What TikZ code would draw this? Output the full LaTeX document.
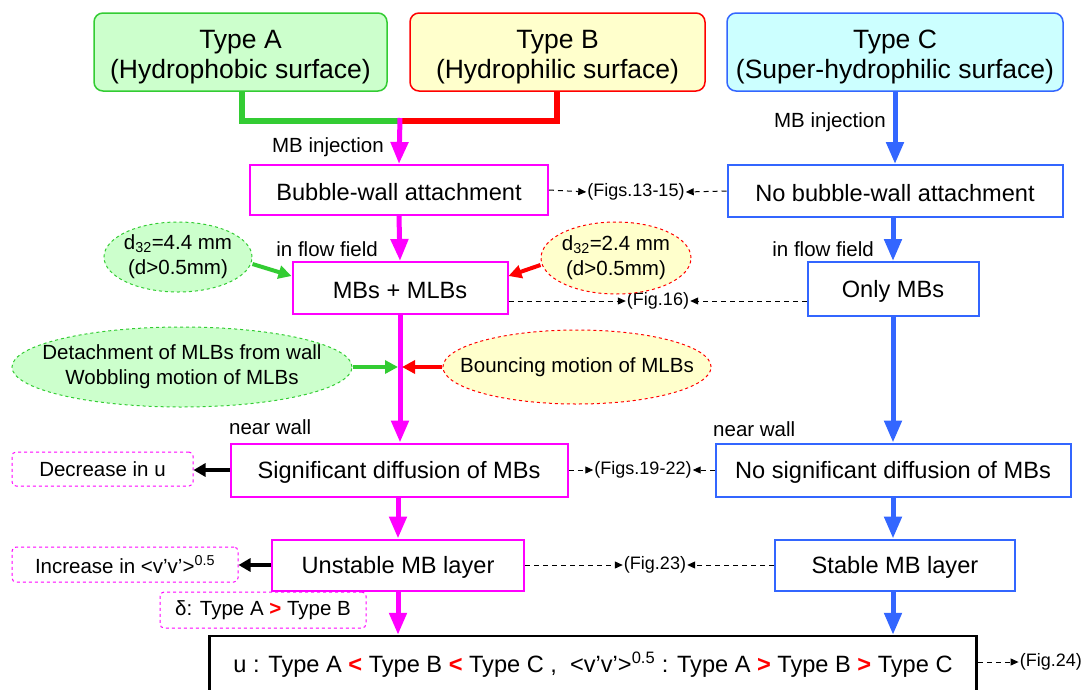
\documentclass[tikz,border=0pt]{standalone}
\usepackage{fontspec}
\setmainfont{Liberation Sans}
\usetikzlibrary{arrows.meta,shapes.geometric,calc}
\definecolor{gfill}{RGB}{204,255,204}
\definecolor{gline}{RGB}{51,204,51}
\definecolor{yfill}{RGB}{255,255,204}
\definecolor{rline}{RGB}{255,0,0}
\definecolor{cfill}{RGB}{204,255,255}
\definecolor{bline}{RGB}{51,102,255}
\definecolor{mline}{RGB}{255,0,255}
\newcommand{\rlt}{{\color{rline}\textbf{<}}}
\newcommand{\rgt}{{\color{rline}\textbf{>}}}
\newcommand{\twolines}[2]{\raisebox{-5pt}[\height][\depth]{\begin{tabular}{@{}c@{}}#1\\#2\end{tabular}}}
\newcommand{\lowr}[1]{\raisebox{-2pt}[\height][\depth]{#1}}
\begin{document}
\begin{tikzpicture}[x=1pt,y=-1pt,
  typebox/.style={font=\fontsize{26.5}{30}\selectfont, align=center, inner sep=0pt,
    rounded corners=9pt, line width=1.5pt, minimum height=78pt},
  mainbox/.style={font=\fontsize{23.6}{27}\selectfont, align=center, inner sep=0pt,
    line width=2pt, fill=white},
  magbox/.style={mainbox, draw=mline},
  bluebox/.style={mainbox, draw=bline},
  small/.style={font=\fontsize{20.5}{24}\selectfont, inner sep=0pt},
  figlab/.style={font=\fontsize{18}{20}\selectfont, inner sep=1pt},
  ell/.style={ellipse, dashed, line width=1pt, font=\fontsize{20.5}{25}\selectfont, align=center, inner sep=-22pt},
  note/.style={draw=mline, dashed, line width=1pt, rounded corners=4pt, font=\fontsize{20.5}{22}\selectfont, inner sep=0pt},
  magarr/.style={mline, line width=5pt, -{Triangle[width=17pt,length=22pt]}},
  bluarr/.style={bline, line width=5pt, -{Triangle[width=17pt,length=22pt]}},
  garr/.style={gline, line width=4pt, -{Triangle[width=13pt,length=13pt]}},
  rarr/.style={rline, line width=4pt, -{Triangle[width=13pt,length=13pt]}},
  karr/.style={black, line width=4pt, -{Triangle[width=13pt,length=12pt]}},
  darr/.style={black, line width=1pt, dashed, dash pattern=on 5pt off 4pt, -{Triangle[width=7pt,length=8pt]}}
]
\useasboundingbox (0,0) rectangle (1085,689);
\clip (0,0) rectangle (1085,689);

% top type boxes
\node[typebox, draw=gline, fill=gfill, minimum width=293pt] (A) at (240.5,52) {\twolines{Type A}{(Hydrophobic surface)}};
\node[typebox, draw=rline, fill=yfill, minimum width=295pt] (B) at (557.5,52) {\twolines{Type B}{(Hydrophilic surface)}};
\node[typebox, draw=bline, fill=cfill, minimum width=336pt] (C) at (895,52) {\twolines{Type C}{(Super-hydrophilic surface)}};

% row 1
\node[magbox, minimum width=298pt, minimum height=50pt] (bw) at (399,190) {\lowr{Bubble-wall attachment}};
\node[bluebox, minimum width=335pt, minimum height=52pt] (nbw) at (895,191) {\lowr{No bubble-wall attachment}};
\node[figlab] (f13) at (636,192) {(Figs.13-15)};

% junction
\coordinate (j) at (400,121);
\draw[gline, line width=6pt] (A.south -| 242,0) |- (j);
\draw[rline, line width=6pt] (B.south -| 557,0) |- (j);
\draw[magarr] ([yshift=3pt]j) -- (bw.north);
\node[small, anchor=east] (mbi1) at (384,147) {MB injection};
\draw[bluarr] (C.south) -- (C.south |- nbw.north);
\node[small, anchor=east] (mbi2) at (886,122) {MB injection};
\draw[darr] (bw.east) -- (f13.west);
\draw[darr] (nbw.west) -- (f13.east);

% row 2
\node[magbox, minimum width=215pt, minimum height=52pt] (mm) at (400,288) {\lowr{MBs + MLBs}};
\node[bluebox, minimum width=171pt, minimum height=54pt] (om) at (893,289) {\lowr{Only MBs}};
\node[figlab] (f16) at (658,301) {(Fig.16)};
\draw[magarr] (bw.south) -- (mm.north);
\draw[bluarr] (nbw.south -| om.north) -- (om.north);
\node[small, anchor=east] (iff1) at (378,249) {in flow field};
\node[small, anchor=east] (iff2) at (874,249) {in flow field};
\draw[darr] ([yshift=-13pt]mm.east) -- (f16.west);
\draw[darr] ([yshift=-12pt]om.west) -- (f16.east);

\node[ell, draw=gline, fill=gfill, minimum width=148pt, minimum height=70pt] (e1) at (178,257) {d\textsubscript{32}=4.4 mm\\(d>0.5mm)};
\node[ell, draw=rline, fill=yfill, minimum width=150pt, minimum height=72pt] (e2) at (616,258) {d\textsubscript{32}=2.4 mm\\(d>0.5mm)};
\draw[garr] ([yshift=-7pt]e1.east) -- ([yshift=12pt]mm.west);
\draw[rarr] ([yshift=-7pt]e2.west) -- ([yshift=12pt]mm.east);

% row 3
\node[magbox, minimum width=337pt, minimum height=53pt] (sd) at (399,470) {\lowr{Significant diffusion of MBs}};
\node[bluebox, minimum width=355pt, minimum height=53pt] (nsd) at (893,470) {\lowr{No significant diffusion of MBs}};
\node[figlab] (f19) at (643,470) {(Figs.19-22)};
\coordinate (mid) at (400,367);
\draw[magarr] (mm.south -| 400,0) -- (sd.north -| 400,0);
\draw[bluarr] (om.south) -- (om.south |- nsd.north);
\node[small, anchor=west] (nw1) at (229,427) {near wall};
\node[small, anchor=west] (nw2) at (713,429) {near wall};
\draw[darr] (sd.east) -- (f19.west);
\draw[darr] (nsd.west) -- (f19.east);

\node[ell, draw=gline, fill=gfill, minimum width=340pt, minimum height=80pt] (e3) at (182,367) {Detachment of MLBs from wall\\Wobbling motion of MLBs};
\node[ell, draw=rline, fill=yfill, minimum width=262pt, minimum height=74pt] (e4) at (577,367) {Bouncing motion of MLBs};
\draw[garr] (e3.east) -- ([xshift=-2pt]mid);
\draw[rarr] (e4.west) -- ([xshift=2pt]mid);

\node[note, minimum width=181pt, minimum height=34pt] (du) at (102.5,469) {Decrease in u};
\draw[karr] (sd.west) -- (sd.west -| du.east);

% row 4
\node[magbox, minimum width=252pt, minimum height=51pt] (us) at (398,565) {\lowr{Unstable MB layer}};
\node[bluebox, minimum width=240pt, minimum height=51pt] (st) at (895,565) {\lowr{Stable MB layer}};
\node[figlab] (f23) at (655,565) {(Fig.23)};
\draw[magarr] (sd.south -| us.north) -- (us.north);
\draw[bluarr] (nsd.south) -- (nsd.south |- st.north);
\draw[darr] (us.east) -- (f23.west);
\draw[darr] (st.west) -- (f23.east);

\node[note, minimum width=226pt, minimum height=35pt] (iv) at (125,564.5) {Increase in <v’v’>\textsuperscript{0.5}};
\draw[karr] (us.west) -- (us.west -| iv.east);
\node[note, minimum width=206pt, minimum height=36pt] (dl) at (263,610) {δ: Type A \rgt{} Type B};

% final
\node[mainbox, draw=black, line width=2.5pt, minimum width=767pt, minimum height=58pt] (fin) at (593,665)
  {u : Type A \rlt{} Type B \rlt{} Type C ,\ \ <v’v’>\textsuperscript{0.5} : Type A \rgt{} Type B \rgt{} Type C};
\node[figlab, anchor=east] (f24) at (1083,662) {(Fig.24)};
\draw[magarr] (us.south) -- (us.south |- fin.north);
\draw[bluarr] (st.south -| 893,0) -- (fin.north -| 893,0);
\draw[darr] ([yshift=3pt]fin.east) -- (f24.west);
\end{tikzpicture}
\end{document}
